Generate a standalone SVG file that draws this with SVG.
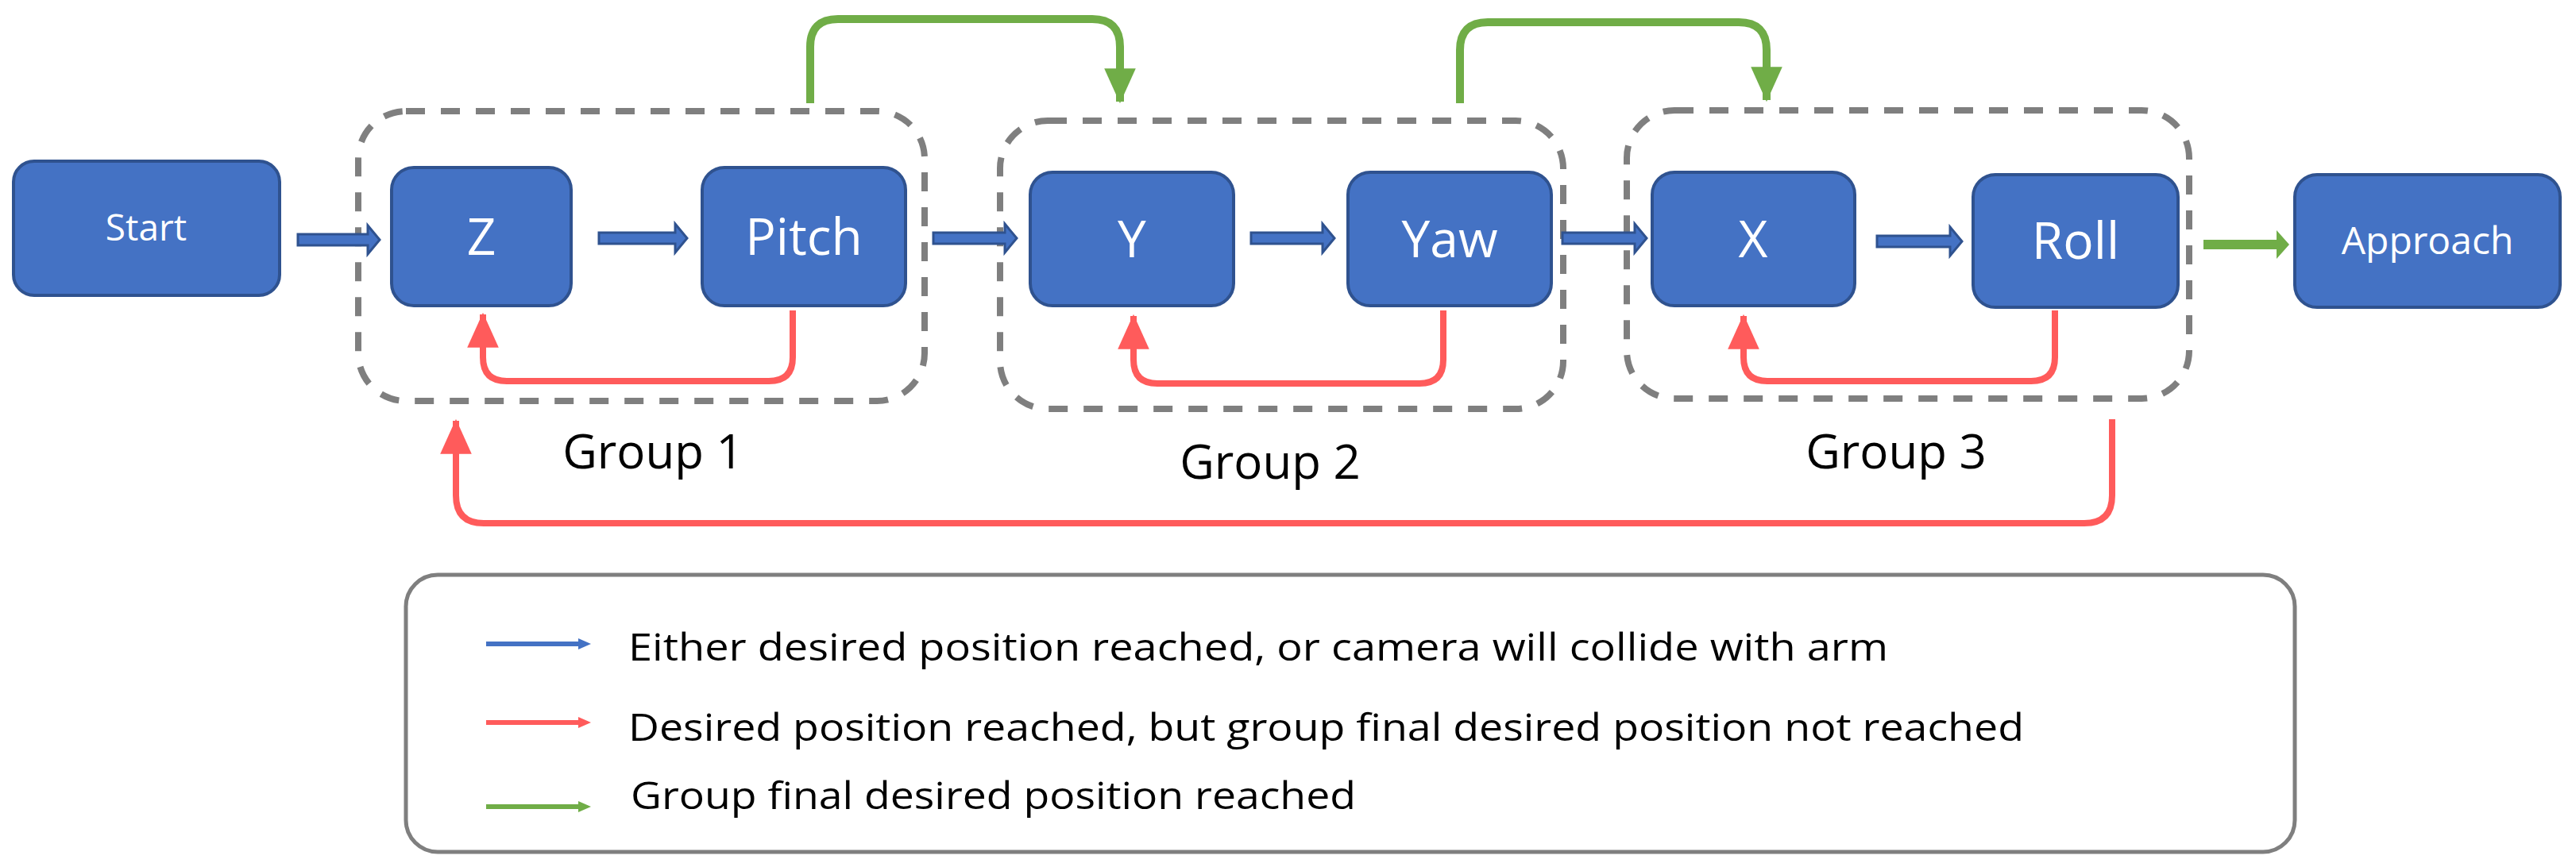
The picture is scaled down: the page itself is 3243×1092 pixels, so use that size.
<svg xmlns="http://www.w3.org/2000/svg" width="3243" height="1092" viewBox="0 0 3243 1092">
<style>
.node{fill:#4472C4;stroke:#2F528F;stroke-width:4}
.nt{fill:#fff;font-family:"Open Sans","Liberation Sans",sans-serif;text-anchor:middle}
.grp{fill:none;stroke:#7F7F7F;stroke-width:8;stroke-dasharray:24 20}
.gl{fill:#000;font-family:"Open Sans","Liberation Sans",sans-serif;font-size:60px;text-anchor:middle}
.blk{fill:#4472C4;stroke:#2F528F;stroke-width:3}
.red{fill:none;stroke:#FF5B5B;stroke-width:8;marker-end:url(#rh)}
.grn{fill:none;stroke:#70AD47;stroke-width:10;marker-end:url(#gh)}
.lt{fill:#000;font-family:"Open Sans","Liberation Sans",sans-serif;font-size:48px}
</style>
<defs>
<marker id="rh" markerUnits="userSpaceOnUse" markerWidth="44" markerHeight="44" viewBox="0 0 40 40" refX="38" refY="20" orient="auto"><path d="M0,2 L40,20 L0,38 Z" fill="#FF5B5B"/></marker>
<marker id="gh" markerUnits="userSpaceOnUse" markerWidth="44" markerHeight="44" viewBox="0 0 40 40" refX="38" refY="20" orient="auto"><path d="M0,2 L40,20 L0,38 Z" fill="#70AD47"/></marker>
</defs>
<rect width="3243" height="1092" fill="#fff"/>
<g id="group1"><rect class="grp" x="451" y="140" width="713" height="365" rx="60"/><text class="gl" x="822" y="590">Group 1</text></g>
<g id="group2"><rect class="grp" x="1259" y="152" width="709" height="363" rx="60"/><text class="gl" x="1599" y="603">Group 2</text></g>
<g id="group3"><rect class="grp" x="2048" y="139" width="708" height="363" rx="60"/><text class="gl" x="2387" y="590">Group 3</text></g>
<g id="start"><rect class="node" x="17" y="203" width="335" height="169" rx="26"/><text class="nt" x="184" y="303" font-size="46">Start</text></g>
<g id="z"><rect class="node" x="493" y="211" width="226" height="174" rx="28"/><text class="nt" x="606" y="321" font-size="64">Z</text></g>
<g id="pitch"><rect class="node" x="884" y="211" width="256" height="174" rx="28"/><text class="nt" x="1012" y="321" font-size="64">Pitch</text></g>
<g id="y"><rect class="node" x="1297" y="217" width="256" height="168" rx="28"/><text class="nt" x="1425" y="324" font-size="64">Y</text></g>
<g id="yaw"><rect class="node" x="1697" y="217" width="256" height="168" rx="28"/><text class="nt" x="1825" y="324" font-size="64">Yaw</text></g>
<g id="x"><rect class="node" x="2080" y="217" width="255" height="168" rx="28"/><text class="nt" x="2207" y="324" font-size="64">X</text></g>
<g id="roll"><rect class="node" x="2484" y="220" width="258" height="167" rx="28"/><text class="nt" x="2613" y="326" font-size="64">Roll</text></g>
<g id="approach"><rect class="node" x="2889" y="220" width="334" height="167" rx="28"/><text class="nt" x="3056" y="320" font-size="48">Approach</text></g>
<g id="connectors">
<polygon class="blk" points="375,295 463,295 463,284 478,302 463,320 463,309 375,309"/>
<polygon class="blk" points="754,293 850,293 850,282 865,300 850,318 850,307 754,307"/>
<polygon class="blk" points="1175,293 1265,293 1265,282 1280,300 1265,318 1265,307 1175,307"/>
<polygon class="blk" points="1575,293 1665,293 1665,282 1680,300 1665,318 1665,307 1575,307"/>
<polygon class="blk" points="1967,293 2058,293 2058,282 2073,300 2058,318 2058,307 1967,307"/>
<polygon class="blk" points="2363,297 2455,297 2455,286 2470,304 2455,322 2455,311 2363,311"/>
<polygon fill="#70AD47" points="2774,302 2866,302 2866,290 2882,308 2866,326 2866,314 2774,314"/>
<path class="red" d="M998,391 V450 Q998,480 968,480 H638 Q608,480 608,450 V396"/>
<path class="red" d="M1817,391 V453 Q1817,483 1787,483 H1457 Q1427,483 1427,453 V398"/>
<path class="red" d="M2587,391 V450 Q2587,480 2557,480 H2225 Q2195,480 2195,450 V398"/>
<path class="red" d="M2659,528 V624 Q2659,659 2624,659 H609 Q574,659 574,624 V530"/>
<path class="grn" d="M1020,130 V59 Q1020,24 1055,24 H1375 Q1410,24 1410,59 V128"/>
<path class="grn" d="M1838,130 V63 Q1838,28 1873,28 H2189 Q2224,28 2224,63 V126"/>
</g>
<g id="legend">
<rect x="511" y="724" width="2378" height="349" rx="40" fill="#fff" stroke="#7F7F7F" stroke-width="5"/>
<line x1="612" y1="811" x2="734" y2="811" stroke="#4472C4" stroke-width="6"/><path d="M728,804 L744,811 L728,818 Z" fill="#4472C4"/>
<line x1="612" y1="910" x2="734" y2="910" stroke="#FF5B5B" stroke-width="6"/><path d="M728,903 L744,910 L728,917 Z" fill="#FF5B5B"/>
<line x1="612" y1="1016" x2="734" y2="1016" stroke="#70AD47" stroke-width="6"/><path d="M728,1009 L744,1016 L728,1023 Z" fill="#70AD47"/>
<text class="lt" x="791" y="832" textLength="1586" lengthAdjust="spacingAndGlyphs">Either desired position reached, or camera will collide with arm</text>
<text class="lt" x="791" y="933" textLength="1757" lengthAdjust="spacingAndGlyphs">Desired position reached, but group final desired position not reached</text>
<text class="lt" x="794" y="1019" textLength="913" lengthAdjust="spacingAndGlyphs">Group final desired position reached</text>
</g>
</svg>
